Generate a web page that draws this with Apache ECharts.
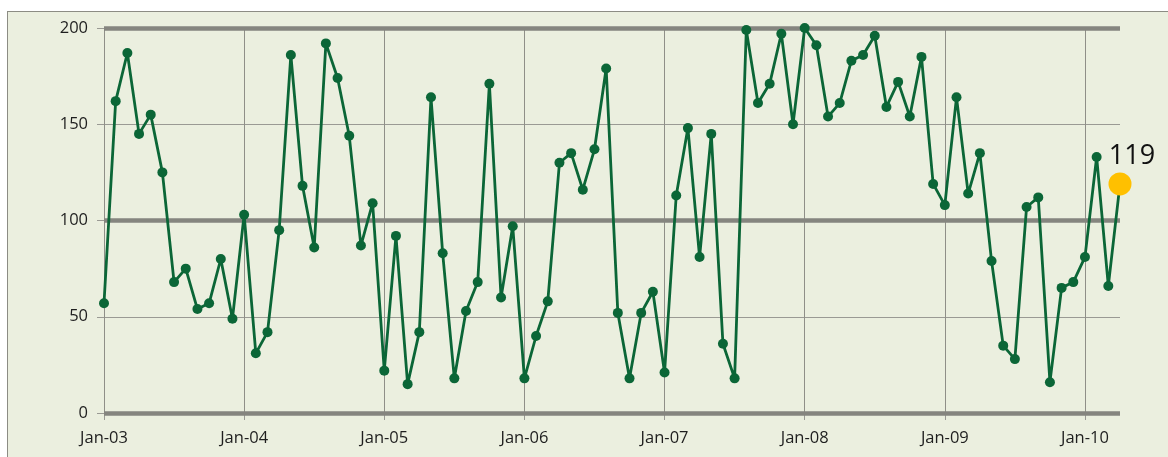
<!DOCTYPE html>
<html>

<head>
    <meta charset="utf-8">
    <style>
        html, body { margin: 0; padding: 0; width: 1168px; height: 457px; background: #fff; overflow: hidden; }
        #frame { position: absolute; left: 7px; top: 11px; width: 1161px; height: 446px; background: #ebefdf;
                 border-left: 1px solid #8c8c84; border-top: 1px solid #8c8c84; box-sizing: border-box; }
        #container { width: 100%; height: 100%; }
    </style>
</head>

<body>
    <div id="frame"><div id="container"></div></div>
    <script type="text/javascript" src="https://cdn.jsdelivr.net/npm/echarts@6/dist/echarts.min.js"></script>
    <script type="text/javascript">
        // monthly values, Jan-03 .. Apr-10
        var years = ['03', '04', '05', '06', '07', '08', '09', '10'];
        var monthNames = ['Jan', 'Feb', 'Mar', 'Apr', 'May', 'Jun', 'Jul', 'Aug', 'Sep', 'Oct', 'Nov', 'Dec'];
        var values2003 = [57, 162, 187, 145, 155, 125, 68, 75, 54, 57, 80, 49];
        var values2004 = [103, 31, 42, 95, 186, 118, 86, 192, 174, 144, 87, 109];
        var values2005 = [22, 92, 15, 42, 164, 83, 18, 53, 68, 171, 60, 97];
        var values2006 = [18, 40, 58, 130, 135, 116, 137, 179, 52, 18, 52, 63];
        var values2007 = [21, 113, 148, 81, 145, 36, 18, 199, 161, 171, 197, 150];
        var values2008 = [200, 191, 154, 161, 183, 186, 196, 159, 172, 154, 185, 119];
        var values2009 = [108, 164, 114, 135, 79, 35, 28, 107, 112, 16, 65, 68];
        var values2010 = [81, 133, 66, 119];
        var yTicks = [0, 50, 100, 150, 200];
        var boldLevels = [0, 100, 200];

        var values = [].concat(values2003, values2004, values2005, values2006,
            values2007, values2008, values2009, values2010);
        var months = values.map(function (v, i) {
            return monthNames[i % 12] + '-' + years[Math.floor(i / 12)];
        });
        var lastIdx = values.length - 1;

        var lineColor = '#0b6637';
        var fontFamily = '"Open Sans", "DejaVu Sans", sans-serif';

        var dom = document.getElementById("container");
        var myChart = echarts.init(dom);

        var seriesData = values.map(function (v, i) {
            if (i === lastIdx) {
                return {
                    value: v,
                    symbolSize: 23,
                    itemStyle: { color: '#ffc000' },
                    label: {
                        show: true,
                        position: 'top',
                        offset: [12, 2],
                        color: '#111',
                        fontSize: 27,
                        fontFamily: fontFamily
                    }
                };
            }
            return v;
        });

        var option = {
            animation: false,
            backgroundColor: 'transparent',
            grid: { left: 96, top: 16, width: 1016, height: 385, containLabel: false },
            xAxis: {
                type: 'category',
                data: months,
                boundaryGap: false,
                axisLine: { show: false },
                axisTick: {
                    show: true,
                    length: 7,
                    interval: function (i) { return i % 12 === 0; },
                    lineStyle: { color: '#9a9a94', width: 1 }
                },
                axisLabel: {
                    interval: function (i) { return i % 12 === 0; },
                    margin: 17,
                    fontSize: 16.5,
                    color: '#1e1e1e',
                    fontFamily: fontFamily
                },
                splitLine: {
                    show: true,
                    interval: function (i) { return i % 12 === 0; },
                    lineStyle: { color: '#8f8f88', width: 1 }
                }
            },
            yAxis: {
                type: 'value',
                min: yTicks[0],
                max: yTicks[yTicks.length - 1],
                interval: 50,
                axisLine: { show: false },
                axisTick: { show: true, length: 7, lineStyle: { color: '#9a9a94' } },
                axisLabel: {
                    margin: 16,
                    fontSize: 16.5,
                    color: '#1e1e1e',
                    fontFamily: fontFamily
                },
                splitLine: { show: true, lineStyle: { color: '#9a9a94', width: 1 } }
            },
            series: [{
                type: 'line',
                data: [],
                z: 1,
                silent: true,
                markLine: {
                    silent: true,
                    symbol: 'none',
                    label: { show: false },
                    lineStyle: { color: '#85857f', width: 4.5, type: 'solid' },
                    data: boldLevels.map(function (v) { return { yAxis: v }; })
                }
            }, {
                type: 'line',
                data: seriesData,
                z: 5,
                symbol: 'circle',
                symbolSize: 10,
                showAllSymbol: true,
                lineStyle: { color: lineColor, width: 2.8 },
                itemStyle: { color: lineColor }
            }]
        };

        myChart.setOption(option);
    </script>
</body>

</html>
